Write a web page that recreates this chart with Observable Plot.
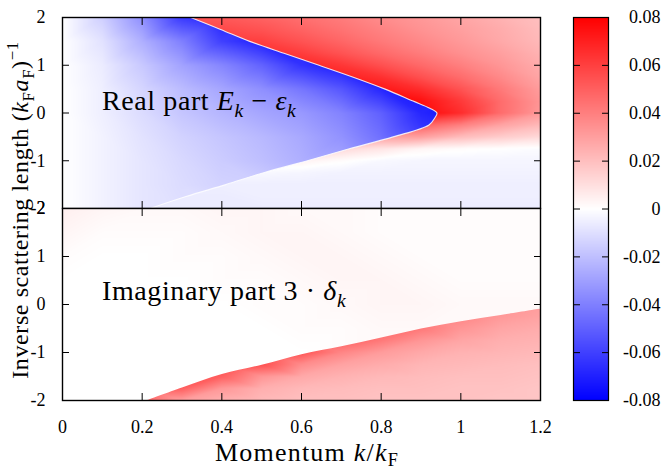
<!DOCTYPE html>
<html><head><meta charset="utf-8">
<script src="https://cdn.jsdelivr.net/npm/d3@7"></script>
<script src="https://cdn.jsdelivr.net/npm/@observablehq/plot@0.6"></script>
<style>
html,body{margin:0;padding:0;background:#fff;}
#chart{position:relative;width:663px;height:470px;overflow:hidden;background:#fff;}
#chart svg{position:absolute;}
</style></head><body><div id="chart"></div>
<script>
// ---- data ----
const kDomain = [0, 1.2];
const yDomain = [-2, 2];
const cbDomain = [-0.08, 0.08];
const xTicks = [0, 0.2, 0.4, 0.6, 0.8, 1, 1.2];
const yTicks = [-2, -1, 0, 1, 2];
const cbTicks = [-0.08, -0.06, -0.04, -0.02, 0, 0.02, 0.04, 0.06, 0.08];

const kGrid = [0, 0.1, 0.2, 0.3, 0.4, 0.5, 0.6, 0.7, 0.8, 0.9, 1.0, 1.1, 1.2];
const yFine = [2, 1.75, 1.5, 1.25, 1, 0.75, 0.5, 0.25, 0, -0.25, -0.5, -0.75, -1, -1.25, -1.5, -1.75, -2];
const yCoarse = [2, 1.5, 1, 0.5, 0, -0.5, -1, -1.5, -2];
const yLower = [0, -0.25, -0.5, -0.75, -1, -1.25, -1.5, -1.75, -2];

// Real part, field outside the blue pocket (rows = yFine, cols = kGrid)
const realOuter = [
  [0.054,0.054,0.054,0.054,0.052,0.049,0.045,0.041,0.036,0.032,0.028,0.024,0.02],
  [0.058,0.058,0.058,0.058,0.057,0.054,0.049,0.044,0.039,0.034,0.03,0.026,0.021],
  [0.062,0.062,0.062,0.062,0.062,0.06,0.054,0.048,0.042,0.037,0.032,0.027,0.022],
  [0.065,0.065,0.065,0.065,0.065,0.065,0.061,0.054,0.047,0.041,0.035,0.03,0.024],
  [0.068,0.068,0.068,0.068,0.068,0.068,0.068,0.063,0.055,0.047,0.04,0.033,0.026],
  [0.07,0.07,0.07,0.07,0.07,0.07,0.07,0.07,0.065,0.055,0.046,0.037,0.028],
  [0.073,0.073,0.073,0.073,0.073,0.073,0.073,0.073,0.073,0.066,0.054,0.042,0.031],
  [0.076,0.076,0.076,0.076,0.076,0.076,0.076,0.076,0.076,0.075,0.062,0.046,0.033],
  [0.078,0.078,0.078,0.078,0.078,0.078,0.078,0.078,0.078,0.078,0.066,0.046,0.032],
  [0.05,0.05,0.05,0.05,0.05,0.05,0.05,0.05,0.05,0.05,0.04,0.029,0.022],
  [0.03,0.03,0.03,0.03,0.03,0.03,0.03,0.03,0.03,0.03,0.021,0.016,0.012],
  [0.012,0.012,0.012,0.012,0.012,0.012,0.012,0.012,0.008,0.003,0.001,0,-0.001],
  [0.004,0.004,0.004,0.004,0.004,0.004,0.004,0.001,-0.002,-0.003,-0.003,-0.003,-0.003],
  [-0.002,-0.002,-0.002,-0.002,-0.002,-0.002,-0.003,-0.004,-0.004,-0.004,-0.004,-0.004,-0.004],
  [-0.005,-0.005,-0.005,-0.005,-0.005,-0.005,-0.005,-0.005,-0.005,-0.005,-0.005,-0.005,-0.005],
  [-0.006,-0.006,-0.006,-0.006,-0.006,-0.005,-0.005,-0.005,-0.005,-0.005,-0.005,-0.005,-0.005],
  [-0.006,-0.006,-0.006,-0.006,-0.006,-0.006,-0.006,-0.006,-0.006,-0.006,-0.006,-0.006,-0.006]
];

// Real part, field inside the blue pocket (rows = yCoarse)
const realInner = [
  [0,-0.015,-0.035,-0.062,-0.07,-0.07,-0.07,-0.07,-0.07,-0.07,-0.07,-0.07,-0.07],
  [0,-0.009,-0.025,-0.04,-0.06,-0.07,-0.07,-0.07,-0.07,-0.07,-0.07,-0.07,-0.07],
  [0,-0.006,-0.017,-0.029,-0.038,-0.049,-0.064,-0.072,-0.072,-0.072,-0.072,-0.072,-0.072],
  [0,-0.005,-0.013,-0.021,-0.028,-0.035,-0.043,-0.053,-0.068,-0.074,-0.074,-0.074,-0.074],
  [0,-0.005,-0.011,-0.018,-0.023,-0.028,-0.032,-0.039,-0.05,-0.068,-0.075,-0.075,-0.075],
  [0,-0.004,-0.009,-0.014,-0.018,-0.022,-0.027,-0.034,-0.045,-0.06,-0.06,-0.06,-0.06],
  [0,-0.004,-0.008,-0.012,-0.016,-0.02,-0.025,-0.028,-0.028,-0.028,-0.028,-0.028,-0.028],
  [0,-0.004,-0.008,-0.011,-0.014,-0.015,-0.015,-0.015,-0.015,-0.015,-0.015,-0.015,-0.015],
  [0,-0.004,-0.008,-0.01,-0.01,-0.01,-0.01,-0.01,-0.01,-0.01,-0.01,-0.01,-0.01]
];

// Edge of the blue pocket (real part)
const blueEdgeY = [2, 1.75, 1.5, 1.25, 1, 0.75, 0.5, 0.25, 0.1, 0, -0.1, -0.25, -0.5, -0.75, -1, -1.25, -1.5, -1.75, -2];
const blueEdgeK = [0.322, 0.397, 0.47, 0.556, 0.644, 0.73, 0.81, 0.88, 0.922, 0.94, 0.935, 0.92, 0.83, 0.72, 0.615, 0.505, 0.41, 0.31, 0.22];

// Imaginary part, field above the edge (rows = yCoarse)
const imagUpper = [
  [0.005,0.003,0.002,0.002,0.003,0.003,0.002,0.002,0.001,0.001,0.001,0.001,0.001],
  [0.003,0.001,0.001,0.001,0.002,0.003,0.003,0.002,0.001,0.001,0.001,0.001,0.001],
  [0.001,0,0,0.001,0.001,0.002,0.003,0.003,0.002,0.001,0.001,0.001,0.001],
  [0,0,0,0,0.001,0.001,0.002,0.003,0.003,0.002,0.001,0.001,0.001],
  [0,0,0,0,0,0.001,0.001,0.002,0.003,0.003,0.002,0.002,0.002],
  [0,0,0,0,0,0,0.001,0.001,0.002,0.002,0.002,0.002,0.002],
  [0,0,0,0,0,0,0,0.001,0.001,0.001,0.001,0.001,0.001],
  [0,0,0,0,0,0,0,0,0,0,0,0,0],
  [0,0,0,0,0,0,0,0,0,0,0,0,0]
];

// Imaginary part, red field below the edge (rows = yLower)
const imagLower = [
  [0.05,0.05,0.05,0.055,0.058,0.057,0.054,0.05,0.046,0.042,0.038,0.034,0.031],
  [0.05,0.05,0.05,0.055,0.058,0.057,0.054,0.05,0.046,0.042,0.038,0.032,0.029],
  [0.05,0.05,0.05,0.055,0.058,0.057,0.054,0.05,0.046,0.042,0.033,0.028,0.026],
  [0.05,0.05,0.05,0.055,0.058,0.057,0.054,0.05,0.042,0.033,0.028,0.025,0.024],
  [0.05,0.05,0.05,0.055,0.058,0.057,0.054,0.038,0.031,0.027,0.024,0.023,0.022],
  [0.05,0.05,0.05,0.055,0.058,0.055,0.036,0.029,0.026,0.023,0.022,0.021,0.02],
  [0.05,0.05,0.05,0.055,0.05,0.033,0.027,0.024,0.022,0.021,0.02,0.02,0.019],
  [0.05,0.05,0.05,0.05,0.032,0.025,0.022,0.021,0.02,0.02,0.019,0.019,0.018],
  [0.05,0.05,0.05,0.03,0.025,0.022,0.02,0.02,0.019,0.019,0.019,0.018,0.018]
];

// Edge of the red region (imaginary part)
const imagEdgeK = [0.21, 0.3, 0.4, 0.5, 0.6, 0.7, 0.8, 0.9, 1.0, 1.1, 1.2];
const imagEdgeY = [-2, -1.73, -1.45, -1.255, -1.035, -0.87, -0.687, -0.5, -0.35, -0.22, -0.085];

// ---- font choice: first installed serif face ----
function hasFont(name) {
  const c = document.createElement("canvas").getContext("2d");
  const s = "Momentum scattering 0.123456789";
  return ["monospace", "sans-serif"].some(fb => {
    c.font = `40px ${fb}`; const w1 = c.measureText(s).width;
    c.font = `40px '${name}', ${fb}`; const w2 = c.measureText(s).width;
    return Math.abs(w1 - w2) > 0.5;
  });
}
const fontChoices = [
  {name: "Liberation Serif", tick: 18, label: 28, xt: 26, yt: 24, ls: 0.6},
  {name: "Times New Roman", tick: 18, label: 28, xt: 26, yt: 24, ls: 0.6},
  {name: "DejaVu Serif", tick: 15.5, label: 24, xt: 22, yt: 20.5, ls: 0},
  {name: "Noto Serif", tick: 15.5, label: 24, xt: 22, yt: 20.5, ls: 0}
];
const F = fontChoices.find(f => hasFont(f.name)) || {name: "serif", tick: 18, label: 28, xt: 26, yt: 24, ls: 0.6};
const serif = `'${F.name}', serif`;

// ---- build tables ----
const table = (rows, ys) => rows.flatMap((row, i) => row.map((v, j) => ({k: kGrid[j], y: ys[i], v})));
const blueEdge = blueEdgeK.map((k, i) => ({k, y: blueEdgeY[i]}));
const imagEdge = imagEdgeK.map((k, i) => ({k, y: imagEdgeY[i]}));

const color = {type: "linear", domain: [cbDomain[0], 0, cbDomain[1]], range: ["#0000ff", "#ffffff", "#ff0000"], interpolate: "rgb", clamp: true};
const style = {background: "transparent", fontFamily: serif, fontSize: `${F.tick}px`, color: "black", overflow: "visible"};
const bounds = {x1: kDomain[0], x2: kDomain[1], y1: yDomain[0], y2: yDomain[1]};
const rasterOpts = {x: "k", y: "y", fill: "v", interpolate: "barycentric", ...bounds};
const fmt = d => String(d);
const blank = () => "";
const ns = "http://www.w3.org/2000/svg";

function clipSecondRaster(svg, id) {
  const areaG = svg.querySelector('g[aria-label="area"]');
  const src = areaG.querySelector("path");
  const cp = document.createElementNS(ns, "clipPath");
  cp.setAttribute("id", id);
  const p = document.createElementNS(ns, "path");
  p.setAttribute("d", src.getAttribute("d"));
  const t = [areaG.getAttribute("transform"), src.getAttribute("transform")].filter(Boolean).join(" ");
  if (t) p.setAttribute("transform", t);
  cp.appendChild(p);
  const defs = document.createElementNS(ns, "defs");
  defs.appendChild(cp);
  svg.insertBefore(defs, svg.firstChild);
  const rasters = svg.querySelectorAll('g[aria-label="raster"]');
  rasters[1].setAttribute("clip-path", `url(#${id})`);
}

const chart = document.getElementById("chart");
chart.style.fontFamily = serif;

// ---- top panel: real part ----
const topPlot = Plot.plot({
  width: 560, height: 209, marginLeft: 62, marginRight: 20, marginTop: 17, marginBottom: 1,
  style,
  x: {domain: kDomain, label: null},
  y: {domain: yDomain, label: null},
  color,
  marks: [
    Plot.raster(table(realOuter, yFine), rasterOpts),
    Plot.raster(table(realInner, yCoarse), rasterOpts),
    Plot.areaX(blueEdge, {x: "k", y: "y", fill: "none", curve: "catmull-rom"}),
    Plot.line(blueEdge, {x: "k", y: "y", stroke: "white", strokeWidth: 1.1, strokeOpacity: 0.85, curve: "catmull-rom"}),
    Plot.axisY(yTicks, {anchor: "left", tickSize: -7, tickPadding: 24, tickFormat: fmt, label: null}),
    Plot.axisY(yTicks, {anchor: "right", tickSize: -7, tickFormat: blank, label: null}),
    Plot.axisX(xTicks, {anchor: "bottom", tickSize: -7, tickFormat: blank, label: null}),
    Plot.axisX(xTicks, {anchor: "top", tickSize: -7, tickFormat: blank, label: null}),
    Plot.frame({stroke: "black", strokeWidth: 1.4})
  ]
});
topPlot.style.left = "0px"; topPlot.style.top = "0px";
clipSecondRaster(topPlot, "blueClip");

// ---- bottom panel: imaginary part ----
const botPlot = Plot.plot({
  width: 560, height: 240, marginLeft: 62, marginRight: 20, marginTop: 8, marginBottom: 40,
  style,
  x: {domain: kDomain, label: null},
  y: {domain: yDomain, label: null},
  color,
  marks: [
    Plot.raster(table(imagUpper, yCoarse), rasterOpts),
    Plot.raster(table(imagLower, yLower), rasterOpts),
    Plot.areaY(imagEdge, {x: "k", y1: () => yDomain[0], y2: "y", fill: "none", curve: "catmull-rom"}),
    Plot.axisY(yTicks, {anchor: "left", tickSize: -7, tickPadding: 24, tickFormat: fmt, label: null}),
    Plot.axisY(yTicks, {anchor: "right", tickSize: -7, tickFormat: blank, label: null}),
    Plot.axisX(xTicks, {anchor: "bottom", tickSize: -7, tickPadding: 27, tickFormat: fmt, label: null}),
    Plot.axisX(xTicks, {anchor: "top", tickSize: -7, tickFormat: blank, label: null}),
    Plot.frame({stroke: "black", strokeWidth: 1.4})
  ]
});
botPlot.style.left = "0px"; botPlot.style.top = "200px";
clipSecondRaster(botPlot, "redClip");

// ---- colour bar ----
const cbPlot = Plot.plot({
  width: 103, height: 401, marginLeft: 13, marginRight: 55, marginTop: 17, marginBottom: 1,
  style,
  x: {domain: [0, 1], axis: null},
  y: {domain: cbDomain, label: null},
  color,
  marks: [
    Plot.raster({x1: 0, x2: 1, y1: cbDomain[0], y2: cbDomain[1], fill: (x, y) => y}),
    Plot.axisY(cbTicks, {anchor: "right", tickSize: -7, tickPadding: 59, textAnchor: "end", tickFormat: d => d === 0 ? "0" : d.toFixed(2), label: null}),
    Plot.axisY(cbTicks, {anchor: "left", tickSize: -7, tickFormat: blank, label: null}),
    Plot.frame({stroke: "black", strokeWidth: 1.2})
  ]
});
cbPlot.style.left = "560px"; cbPlot.style.top = "0px";

chart.append(topPlot, botPlot, cbPlot);
for (const t of chart.querySelectorAll("text")) t.style.fontFamily = serif;

// ---- text overlay (titles and panel labels) ----
const overlay = d3.select(chart).append("svg")
  .attr("width", 663).attr("height", 470)
  .style("left", "0px").style("top", "0px").style("pointer-events", "none")
  .style("font-family", serif).attr("fill", "black");

function richText(g, size, parts, subShift = 0.25) {
  const t = g.append("text").attr("font-size", size).style("font-family", serif);
  let shift = 0;
  for (const [str, o = {}] of parts) {
    const target = o.sub ? size * subShift : o.sup ? -size * 0.42 : 0;
    const s = t.append("tspan").text(str).attr("dy", target - shift);
    if (o.it) s.attr("font-style", "italic");
    if (o.sub || o.sup) s.attr("font-size", size * 0.7);
    shift = target;
  }
  return t;
}

richText(overlay.append("g").attr("transform", "translate(102,110)").attr("letter-spacing", F.ls), F.label,
  [["Real part "], ["E", {it: true}], ["k", {it: true, sub: true}], [" \u2212 "], ["ε", {it: true}], ["k", {it: true, sub: true}]]);
richText(overlay.append("g").attr("transform", "translate(102,300)").attr("letter-spacing", F.ls), F.label,
  [["Imaginary part 3 · "], ["δ", {it: true}], ["k", {it: true, sub: true}]]);
richText(overlay.append("g").attr("transform", "translate(307,461)").attr("letter-spacing", F.ls * 2), F.xt,
  [["Momentum "], ["k", {it: true}], ["/"], ["k", {it: true}], ["F", {sub: true}]], 0.18).attr("text-anchor", "middle");
richText(overlay.append("g").attr("transform", "translate(28,210) rotate(-90)").attr("letter-spacing", F.ls), F.yt,
  [["Inverse scattering length ("], ["k", {it: true}], ["F", {sub: true}], ["a", {it: true}], ["F", {sub: true}], [")"], ["\u22121", {sup: true}]]).attr("text-anchor", "middle");
</script>
</body></html>
